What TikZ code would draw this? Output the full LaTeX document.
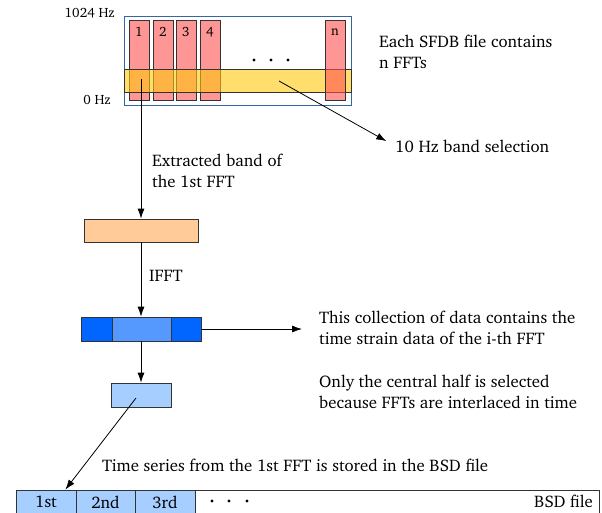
\documentclass[tikz,border=0pt]{standalone}
\usepackage[T1]{fontenc}
\usepackage{charter}
\usetikzlibrary{arrows.meta}

\definecolor{framecol}{RGB}{52,101,164}
\definecolor{barred}{RGB}{255,80,80}
\definecolor{bandyel}{RGB}{255,200,13}
\definecolor{bandorg}{RGB}{255,204,153}
\definecolor{tsdark}{RGB}{0,102,255}
\definecolor{tsmid}{RGB}{85,153,255}
\definecolor{tslight}{RGB}{166,207,255}

\tikzset{
	box/.style={draw=black!80, line width=0.8pt, inner sep=0pt},
	fftbar/.style={box, fill=barred, fill opacity=0.6, minimum width=20pt, minimum height=80pt},
	lbl/.style={font=\fontsize{16.8}{21}\selectfont, align=left, inner sep=0pt},
	tinylbl/.style={font=\fontsize{13.5}{15}\selectfont, inner sep=0pt},
	conn/.style={line width=0.8pt, -{Latex[length=10pt,width=7pt]}},
}

\begin{document}
\begin{tikzpicture}[x=1pt,y=-1pt]
	
	\useasboundingbox (0,0) rectangle (602,512);
	
	% SFDB file
	\node[draw=framecol, line width=0.6pt, minimum width=227pt, minimum height=89pt, inner sep=0pt] (sfdb) at (237.5,60.5) {};
	\node[tinylbl, anchor=east] (fmax) at (115,13) {1024 Hz};
	\node[tinylbl, anchor=east] (fmin) at (111,100) {0 Hz};
	
	% FFTs
	\foreach \n/\x in {1/139,2/163,3/186,4/210}{
		\node[fftbar] (bar\n) at (\x,60) {};
		\node[tinylbl] (num\n) at (\x,32) {\n};
	}
	\node[box, fill=bandyel, fill opacity=0.6, minimum width=227pt, minimum height=23pt] (band) at (237.5,80.5) {};
	\node[fftbar] (barn) at (335,60) {};
	\node[tinylbl] (numn) at (335,32) {n};
	\foreach \x in {254,271,288}
		\fill (\x,60) circle (1.7pt);
	
	% Labels
	\node[lbl, anchor=west] (nffts) at (379,51.5) {Each SFDB file contains\\n FFTs};
	\node[lbl, anchor=west] (sel) at (395,146) {10 Hz band selection};
	\draw[conn, shorten >=10pt] ([shift={(41.5,0.5)}]band.center) -- (sel.west);
	
	% Extracted band
	\node[box, fill=bandorg, minimum width=114pt, minimum height=23pt] (extract) at (141,230.5) {};
	\node[lbl, anchor=west] (extlbl) at (152,171) {Extracted band of\\the 1st FFT};
	\draw[conn] ([yshift=1.5pt]extract |- band) -- (extract);
	
	% Time series
	\node[box, fill=tsdark, minimum width=31pt, minimum height=24pt] (tsleft) at (96.5,329) {};
	\node[box, fill=tsmid, minimum width=59pt, minimum height=24pt] (tsmid) at (141.5,329) {};
	\node[box, fill=tsdark, minimum width=30pt, minimum height=24pt] (tsright) at (186,329) {};
	\node[lbl, anchor=west] (ifft) at (149,276) {IFFT};
	\draw[conn] (extract.south) -- (extract.south |- tsmid.north);
	
	\node[lbl, anchor=west] (coll) at (319,328) {This collection of data contains the\\time strain data of the i-th FFT};
	\node[lbl, anchor=west] (half) at (319,392) {Only the central half is selected\\because FFTs are interlaced in time};
	\draw[conn, shorten >=17pt] (tsright.east) -- (coll.west |- tsright.east);
	
	% Central half
	\node[box, fill=tslight, minimum width=60pt, minimum height=24pt] (central) at (141,395) {};
	\draw[conn] (tsmid.south -| extract.south) -- (central);
	
	% BSD file
	\node[box, minimum width=583pt, minimum height=24pt] (bsd) at (307.5,502) {};
	\foreach \n/\t/\x/\w in {1/1st/46/60,2/2nd/105.5/59,3/3rd/165/60}
		\node[box, fill=tslight, minimum width=\w pt, minimum height=24pt, font=\fontsize{16.8}{18}\selectfont] (cell\n) at (\x,502) {\t};
	\foreach \x in {212,229,247}
		\fill (\x,501) circle (1.7pt);
	\node[lbl, anchor=east] (bsdlbl) at (593,501) {BSD file};
	
	\node[lbl, anchor=west] (tslbl) at (102,465) {Time series from the 1st FFT is stored in the BSD file};
	\draw[conn] ([shift={(-5,3)}]central.center) -- ([xshift=-11pt]cell1.north east);
	
\end{tikzpicture}
\end{document}
